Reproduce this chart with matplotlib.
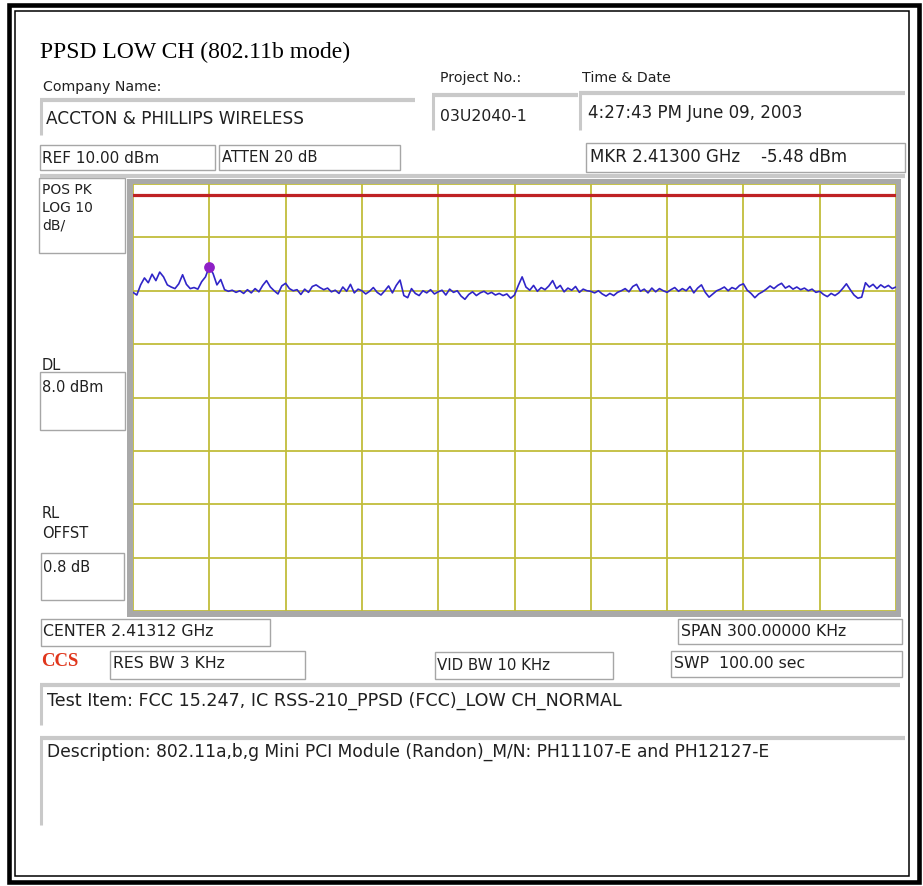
import numpy as np
import matplotlib
matplotlib.use('Agg')
import matplotlib.pyplot as plt
from matplotlib.patches import Rectangle

# analyzer settings
center_ghz = 2.41312
span_khz = 300.0
ref_dbm = 10.0
db_per_div = 10.0
n_vdiv = 8
dl_dbm = 8.0
mkr_ghz = 2.41300
mkr_dbm = -5.48

# swept trace, 201 points across the span (dBm)
trace_dbm = [
    -10.3, -10.8, -8.9, -7.6, -8.5, -6.9, -8.1, -6.5, -7.4, -8.9,
    -9.3, -9.6, -8.7, -7.0, -8.8, -9.6, -9.4, -9.7, -8.3, -7.4,
    -5.48, -6.8, -8.9, -7.9, -9.8, -10.1, -9.9, -10.3, -10.0, -10.5,
    -9.8, -10.4, -9.6, -10.2, -9.0, -8.1, -9.3, -10.0, -10.6, -9.1,
    -8.6, -9.6, -10.0, -9.8, -10.7, -9.7, -10.3, -9.2, -8.9, -9.4,
    -9.8, -9.5, -10.2, -9.9, -10.5, -9.3, -10.1, -8.8, -10.4, -9.7,
    -10.0, -10.6, -10.1, -9.4, -10.3, -10.8, -10.0, -9.1, -10.4, -9.0,
    -8.0, -10.9, -11.3, -9.6, -10.5, -10.9, -10.0, -10.4, -9.8, -10.6,
    -10.2, -9.9, -10.8, -9.7, -10.3, -10.0, -11.0, -11.6, -10.7, -10.2,
    -10.9, -10.4, -10.1, -10.6, -10.3, -10.8, -10.5, -10.9, -10.6, -11.4,
    -10.8, -9.0, -7.4, -9.3, -9.9, -9.0, -10.1, -9.4, -9.8, -9.1,
    -8.1, -9.6, -9.0, -10.2, -9.5, -9.9, -9.2, -10.3, -9.7, -10.0,
    -10.1, -10.4, -10.0, -10.6, -11.0, -10.5, -10.9, -10.3, -10.0, -9.6,
    -10.2, -9.2, -8.8, -10.1, -9.7, -10.4, -9.5, -10.2, -9.6, -10.0,
    -10.3, -9.8, -9.4, -10.1, -9.6, -10.0, -9.2, -10.4, -9.5, -8.9,
    -10.3, -11.2, -10.6, -10.0, -9.7, -9.3, -10.0, -9.4, -9.7, -9.0,
    -8.7, -9.9, -10.5, -11.3, -10.6, -10.2, -9.7, -9.1, -9.6, -9.0,
    -8.6, -9.5, -9.1, -9.7, -9.3, -9.8, -9.5, -10.0, -9.7, -10.3,
    -10.1, -10.7, -11.1, -10.5, -10.9, -10.4, -9.6, -8.7, -9.8, -10.8,
    -11.4, -11.2, -8.5, -9.3, -8.8, -9.6, -8.9, -9.4, -9.0, -9.6,
    -9.3,
]

title = 'PPSD LOW CH (802.11b mode)'
company = 'ACCTON & PHILLIPS WIRELESS'
project = '03U2040-1'
stamp = '4:27:43 PM June 09, 2003'
test_item = 'Test Item: FCC 15.247, IC RSS-210_PPSD (FCC)_LOW CH_NORMAL'
description = ('Description: 802.11a,b,g Mini PCI Module (Randon)_M/N: '
               'PH11107-E and PH12127-E')

W, H = 923, 886
fig = plt.figure(figsize=(W / 100, H / 100), dpi=100)
fig.patch.set_facecolor('white')

# background axes in pixel units, y pointing down
bg = fig.add_axes([0, 0, 1, 1])
bg.set_xlim(0, W)
bg.set_ylim(H, 0)
bg.axis('off')

TXT = '#202020'
EDGE = '#a6a6a6'
SUNK = '#c9c9c9'


def txt(x, y, s, size=11.3, **kw):
    bg.text(x, y, s, fontsize=size, va='center', ha='left', color=TXT,
            family='DejaVu Sans', **kw)


def box(x0, y0, x1, y1):
    bg.add_patch(Rectangle((x0, y0), x1 - x0, y1 - y0, fill=False,
                           ec=EDGE, lw=1.0))


def sunken(x0, y0, x1, y1):
    # field with a grey top and left bevel
    bg.plot([x0, x1], [y0, y0], color=SUNK, lw=3.0, solid_capstyle='butt')
    bg.plot([x0 + 1, x0 + 1], [y0, y1], color=SUNK, lw=2.2,
            solid_capstyle='butt')


# double page border
bg.add_patch(Rectangle((8.5, 5), 910, 877, fill=False, ec='black', lw=3.3))
bg.add_patch(Rectangle((14.5, 10.5), 894.5, 865.5, fill=False, ec='black',
                       lw=1.1))

bg.text(40, 58, title, fontsize=17, family='Liberation Serif', color='black',
        va='baseline', ha='left')

# header fields
txt(43, 87, 'Company Name:', size=10.2)
sunken(40, 100, 415, 135)
txt(46, 119, company, size=12.2)

txt(440, 78, 'Project No.:', size=10.2)
sunken(432, 95, 578, 130)
txt(440, 116, project)

txt(582, 78, 'Time & Date', size=10.2)
sunken(579, 93, 905, 130)
txt(588, 113, stamp, size=12)

box(40, 145, 215, 170)
txt(42, 158, 'REF %.2f dBm' % ref_dbm, size=11)
box(219, 145, 400, 170)
txt(222, 157, 'ATTEN 20 dB', size=10.6)
box(586, 143, 905, 172)
txt(590, 157, 'MKR %.5f GHz    %.2f dBm' % (mkr_ghz, mkr_dbm), size=12)

bg.plot([40, 905], [176, 176], color=SUNK, lw=3.0, solid_capstyle='butt')

# left annotation column
box(39, 178, 125, 253)
txt(42, 190, 'POS PK', size=10)
txt(42, 208, 'LOG %d' % db_per_div, size=10)
txt(42, 225, 'dB/', size=10)

txt(42, 366, 'DL', size=10.5)
box(40, 372, 125, 430)
txt(42, 387, '%.1f dBm' % dl_dbm, size=10.5)

txt(42, 513, 'RL', size=10.5)
txt(42, 534, 'OFFST', size=10.5)
box(41, 553, 124, 600)
txt(43, 567, '0.8 dB', size=10.5)

# grey frame around the trace window
bg.add_patch(Rectangle((127, 179), 774, 438, fc='#a9a9a9', ec='none'))

# bottom settings
box(41, 619, 270, 646)
txt(43, 632, 'CENTER %.5f GHz' % center_ghz)
box(678, 619, 902, 644)
txt(681, 632, 'SPAN %.5f KHz' % span_khz)

bg.text(41, 661, 'CCS', fontsize=13.5, family='Liberation Serif',
        fontweight='bold', color='#e0361c', va='center', ha='left')
box(110, 651, 305, 679)
txt(113, 664, 'RES BW 3 KHz')
box(435, 652, 613, 679)
txt(437, 665, 'VID BW 10 KHz', size=10.8)
box(671, 651, 902, 677)
txt(674, 663, 'SWP  100.00 sec')

sunken(40, 685, 900, 725)
txt(47, 701, test_item, size=12.6)
sunken(40, 738, 905, 825)
txt(47, 752, description, size=12.3)

# trace window: 133..896 px wide, 184..611 px tall
ax = fig.add_axes([133 / W, (H - 611) / H, (896 - 133) / W, (611 - 184) / H])
f0 = center_ghz - span_khz / 2e6
f1 = center_ghz + span_khz / 2e6
bottom_dbm = ref_dbm - n_vdiv * db_per_div
ax.set_xlim(f0, f1)
ax.set_ylim(bottom_dbm, ref_dbm)
ax.set_xticks(np.linspace(f0, f1, 11))
ax.set_yticks(np.arange(bottom_dbm, ref_dbm + 1, db_per_div))
ax.grid(True, color='#c2bd3a', lw=1.3)
ax.tick_params(length=0, labelbottom=False, labelleft=False)
for sp in ax.spines.values():
    sp.set_visible(False)

freqs = np.linspace(f0, f1, len(trace_dbm))
ax.axhline(dl_dbm, color='#bf2224', lw=2.3, zorder=3)
ax.plot(freqs, trace_dbm, color='#3025c8', lw=1.2, zorder=4)
ax.scatter([mkr_ghz], [mkr_dbm], s=45, color='#8e1fc6', zorder=5)

fig.savefig('out.png', dpi=100)
